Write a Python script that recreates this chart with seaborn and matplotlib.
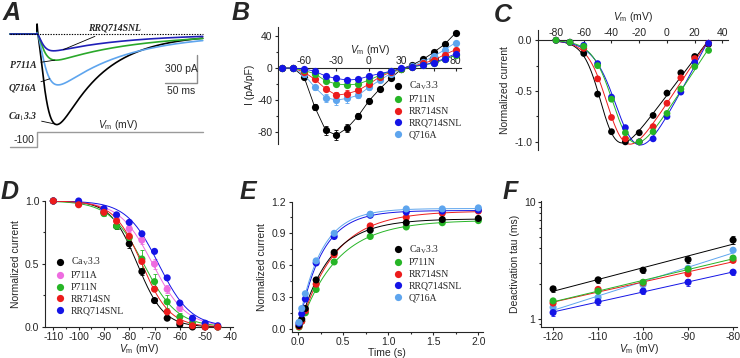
import numpy as np
import pandas as pd
import seaborn as sns
import matplotlib.pyplot as plt
from matplotlib.font_manager import FontProperties
from matplotlib.lines import Line2D
from matplotlib.ticker import MultipleLocator, FixedLocator, FuncFormatter, NullFormatter, LogLocator

sns.set_style('ticks')
plt.rcParams['font.family'] = ['Liberation Sans', 'DejaVu Sans']
plt.rcParams['mathtext.fontset'] = 'custom'
plt.rcParams['mathtext.rm'] = 'Liberation Sans'
plt.rcParams['mathtext.it'] = 'Liberation Sans:italic'
plt.rcParams['font.size'] = 7.5
plt.rcParams['axes.labelsize'] = 7.5
plt.rcParams['xtick.labelsize'] = 7.5
plt.rcParams['ytick.labelsize'] = 7.5
plt.rcParams['axes.linewidth'] = 0.8
plt.rcParams['axes.unicode_minus'] = False
plt.rcParams['xtick.major.size'] = 2.5
plt.rcParams['ytick.major.size'] = 2.5
plt.rcParams['xtick.minor.size'] = 1.5
plt.rcParams['ytick.minor.size'] = 1.5
plt.rcParams['xtick.major.pad'] = 1
plt.rcParams['ytick.major.pad'] = 1.5

# colours
BLACK = '#000000'
GREEN = '#26b526'
RED = '#ec1c1c'
BLUE = '#1414e6'
LBLUE = '#5ea5ee'
PINK = '#ee6ce0'

CAV = 'Ca$_\\mathrm{V}$3.3'

# ---- A: example current traces (pA, ms)
a_names = [CAV, 'Q716A', 'P711A', 'RRQ714SNL']
a_colors = [BLACK, LBLUE, '#2aa82a', '#2020b8']
a_peak = [970, 545, 280, 180]
a_tau_act = [12.3, 11.0, 8.8, 7.6]
a_tau_inact = [70, 105, 125, 115]
a_spike = [130, 20, 15, 10]
a_hold_pot = -100
a_test_pot = -30

# ---- B: current-voltage relation
b_v = list(range(-80, 81, 10))
b_cav = [0, 0, -11, -49, -78, -84, -75, -60, -41, -26, -13, -1, 4, 11, 20, 30, 44]
b_p711n = [0, 0, -3, -7, -16, -20, -21, -20, -15, -9, -4, -1, 1, 4, 6, 11, 16]
b_rr714sn = [0, 0, -5, -14, -26, -34, -32, -28, -20, -11, -5, -1, 2, 6, 10, 17, 23]
b_rrq714snl = [0, 0, -1, -4, -10, -13, -15, -14, -10, -7, -4, 0, 2, 4, 7, 12, 18]
b_q716a = [0, 0, -8, -24, -37, -40, -38, -34, -24, -15, -7, -1, 3, 8, 15, 23, 32]
b_cav_sem = [0, 0, 2, 4, 6, 6, 5, 4, 3, 2, 2, 1, 1, 1, 2, 2, 2]
b_p711n_sem = [0, 0, 1, 1, 2, 2, 2, 2, 2, 1, 1, 1, 1, 1, 1, 1, 1]
b_rr714sn_sem = [0, 0, 1, 2, 3, 4, 4, 3, 2, 2, 1, 1, 1, 1, 1, 2, 2]
b_rrq714snl_sem = [0, 0, 1, 1, 2, 2, 2, 2, 1, 1, 1, 1, 1, 1, 1, 1, 1]
b_q716a_sem = [0, 0, 2, 3, 5, 6, 6, 4, 3, 2, 2, 1, 1, 1, 2, 2, 2]

# ---- C: normalized I-V
c_v = list(range(-80, 31, 10))
c_cav = [0, -0.02, -0.13, -0.53, -0.90, -1.0, -0.91, -0.74, -0.52, -0.32, -0.16, -0.04]
c_rr714sn = [0, -0.02, -0.08, -0.38, -0.76, -0.97, -1.0, -0.85, -0.62, -0.37, -0.18, -0.03]
c_rrq714snl = [0, -0.02, -0.05, -0.23, -0.56, -0.86, -1.0, -0.97, -0.75, -0.51, -0.22, -0.03]
c_p711n = [0, -0.02, -0.06, -0.25, -0.58, -0.91, -1.0, -0.90, -0.72, -0.48, -0.26, -0.10]

# ---- D: steady-state inactivation
d_v = [-110, -100, -90, -85, -80, -75, -70, -65, -60, -55, -50, -45]
d_cav = [1.0, 0.98, 0.91, 0.80, 0.66, 0.44, 0.21, 0.07, 0.02, 0.0, 0.0, 0.0]
d_p711a = [1.0, 0.98, 0.93, 0.85, 0.78, 0.69, 0.50, 0.30, 0.15, 0.05, 0.02, 0.0]
d_p711n = [1.0, 0.98, 0.90, 0.80, 0.71, 0.54, 0.36, 0.20, 0.08, 0.03, 0.01, 0.0]
d_rr714sn = [1.0, 0.97, 0.91, 0.84, 0.72, 0.52, 0.30, 0.12, 0.04, 0.01, 0.0, 0.0]
d_rrq714snl = [1.0, 1.0, 0.94, 0.89, 0.83, 0.74, 0.60, 0.39, 0.19, 0.07, 0.03, 0.01]
d_p711n_sem = [0, 0.01, 0.02, 0.02, 0.03, 0.07, 0.06, 0.05, 0.03, 0.01, 0.01, 0]
d_p711a_sem = [0, 0.01, 0.02, 0.02, 0.03, 0.03, 0.04, 0.03, 0.02, 0.01, 0.01, 0]
d_cav_sem = [0, 0.01, 0.02, 0.02, 0.03, 0.03, 0.02, 0.01, 0.01, 0, 0, 0]

# ---- E: recovery from inactivation
e_t = [0.01, 0.04, 0.08, 0.2, 0.4, 0.8, 1.2, 1.6, 2.0]
e_cav = [0.03, 0.09, 0.19, 0.46, 0.72, 0.93, 1.00, 1.03, 1.04]
e_p711n = [0.015, 0.07, 0.15, 0.37, 0.63, 0.87, 0.96, 1.00, 1.02]
e_rr714sn = [0.02, 0.07, 0.17, 0.42, 0.70, 0.97, 1.05, 1.09, 1.11]
e_rrq714snl = [0.05, 0.14, 0.28, 0.62, 0.87, 1.07, 1.10, 1.11, 1.12]
e_q716a = [0.06, 0.19, 0.33, 0.64, 0.90, 1.08, 1.13, 1.13, 1.14]
e_q716a_sem = [0.01, 0.02, 0.02, 0.02, 0.02, 0.03, 0.02, 0.02, 0.02]
e_rr714sn_sem = [0.01, 0.01, 0.02, 0.02, 0.02, 0.03, 0.02, 0.02, 0.02]

# ---- F: deactivation kinetics (ms)
f_v = [-120, -110, -100, -90, -80]
f_cav = [1.80, 2.15, 2.60, 3.20, 4.70]
f_q716a = [1.25, 1.52, 1.95, 2.70, 3.85]
f_p711n = [1.42, 1.72, 2.05, 2.65, 3.30]
f_rr714sn = [1.36, 1.78, 2.02, 2.42, 3.15]
f_rrq714snl = [1.13, 1.40, 1.72, 2.05, 2.50]
f_cav_sem = [0.12, 0.12, 0.12, 0.2, 0.35]
f_rrq714snl_sem = [0.08, 0.1, 0.1, 0.15, 0.12]

palette = {CAV: BLACK, 'P711A': PINK, 'P711N': GREEN, 'RR714SN': RED,
           'RRQ714SNL': BLUE, 'Q716A': LBLUE}

serif = FontProperties(family='Liberation Serif', size=7, math_fontfamily='stix')


def long_df(x, series, xname, yname):
    frames = [pd.DataFrame({xname: x, yname: vals, 'construct': name})
              for name, vals in series.items()]
    return pd.concat(frames, ignore_index=True)


def fit_iv(v, y):
    v = np.asarray(v, float); y = np.asarray(y, float)
    v50 = np.arange(-70, -20, 0.5)[:, None, None, None]
    k = np.arange(2, 12, 0.25)[None, :, None, None]
    erev = np.arange(15, 60, 1.0)[None, None, :, None]
    m = (v - erev) / (1 + np.exp((v50 - v) / k))
    g = (m * y).sum(-1, keepdims=True) / (m * m).sum(-1, keepdims=True)
    err = ((g * m - y) ** 2).sum(-1)
    i, j, l = np.unravel_index(err.argmin(), err.shape)
    vv = np.linspace(v.min(), v.max(), 200)
    yy = g[i, j, l, 0] * (vv - erev.ravel()[l]) / (1 + np.exp((v50.ravel()[i] - vv) / k.ravel()[j]))
    return vv, yy


def fit_boltz(v, y):
    v = np.asarray(v, float); y = np.asarray(y, float)
    v50 = np.arange(-90, -50, 0.1)[:, None, None]
    k = np.arange(2, 10, 0.05)[None, :, None]
    err = ((1 / (1 + np.exp((v - v50) / k)) - y) ** 2).sum(-1)
    i, j = np.unravel_index(err.argmin(), err.shape)
    vv = np.linspace(v.min(), v.max(), 200)
    return vv, 1 / (1 + np.exp((vv - v50.ravel()[i]) / k.ravel()[j]))


def fit_rise(t, y):
    t = np.asarray(t, float); y = np.asarray(y, float)
    tau = np.arange(0.1, 1.0, 0.002)[:, None, None]
    t0 = np.arange(-0.06, 0.04, 0.002)[None, :, None]
    m = 1 - np.exp(-np.clip(t - t0, 0, None) / tau)
    a = (m * y).sum(-1, keepdims=True) / (m * m).sum(-1, keepdims=True)
    err = ((a * m - y) ** 2).sum(-1)
    i, j = np.unravel_index(err.argmin(), err.shape)
    tt = np.linspace(0, t.max(), 200)
    return tt, a[i, j, 0] * (1 - np.exp(-np.clip(tt - t0.ravel()[j], 0, None) / tau.ravel()[i]))


def fit_df(x, series, fitter, xname, yname):
    frames = []
    for name, vals in series.items():
        xx, yy = fitter(x, vals)
        frames.append(pd.DataFrame({xname: xx, yname: yy, 'construct': name}))
    return pd.concat(frames, ignore_index=True)


def draw_err(ax, x, vals, sem, color):
    ax.errorbar(x, vals, yerr=sem, fmt='none', ecolor=color, elinewidth=0.6,
                capsize=1.5, capthick=0.6, zorder=2)


def add_legend(ax, names, anchor):
    handles = [Line2D([], [], ls='', marker='o', ms=5.2, mec='none', color=palette[n]) for n in names]
    ax.legend(handles, names, loc='upper left', bbox_to_anchor=anchor,
              bbox_transform=ax.figure.transFigure, frameon=False, prop=serif,
              handlelength=0.8, handletextpad=0.7, labelspacing=0.28,
              borderpad=0, borderaxespad=0)


fig = plt.figure(figsize=(7.4, 3.58), dpi=100)

# ================= A =================
axA = fig.add_axes([0.0108, 0.567, 0.2703, 0.391])
axA.set_xlim(-45.3, 267.2)
axA.set_ylim(-1296, 203.6)
axA.axis('off')
t_a = np.linspace(-42, 259, 1500)
rows = []
for name, pk, tm, th, sp in zip(a_names, a_peak, a_tau_act, a_tau_inact, a_spike):
    tp = np.clip(t_a, 0, None)
    shape = np.where(t_a >= 0, (1 - np.exp(-tp / tm)) ** 2 * np.exp(-tp / th), 0)
    cur = -pk * shape / shape.max() + np.where(t_a >= 0, sp * np.exp(-tp / 0.9), 0)
    rows.append(pd.DataFrame({'t': t_a, 'I': cur, 'construct': name}))
df_a = pd.concat(rows, ignore_index=True)
sns.lineplot(data=df_a, x='t', y='I', hue='construct', hue_order=a_names,
             palette=dict(zip(a_names, a_colors)), estimator=None, sort=False,
             lw=1.2, legend=False, ax=axA)
axA.hlines(0, t_a[0], t_a[-1], colors='k', lw=0.8, linestyles=(0, (1.2, 1.2)), zorder=4)


def trace_at(name, t):
    d = df_a[df_a['construct'] == name]
    return np.interp(t, d['t'], d['I'])


ann = dict(arrowstyle='-', lw=0.6, color='k', shrinkA=1, shrinkB=0)
afont = dict(family='Liberation Serif', style='italic', size=7, weight='bold')
axA.annotate('RRQ714SNL', xy=(41, trace_at('RRQ714SNL', 41)), xytext=(80, 64),
             ha='left', va='center', arrowprops=ann, **afont)
axA.annotate('P711A', xy=(28, trace_at('P711A', 28)), xytext=(-1, -332),
             ha='right', va='center', arrowprops=ann, **afont)
axA.annotate('Q716A', xy=(20, trace_at('Q716A', 20)), xytext=(-1, -578),
             ha='right', va='center', arrowprops=ann, **afont)
axA.annotate('Ca$_\\mathrm{1}$3.3', xy=(28, trace_at(CAV, 28)), xytext=(0, -889),
             ha='right', va='center', arrowprops=ann, math_fontfamily='stix', **afont)

# scale bars (300 pA, 50 ms)
sb_t, sb_i = 250, -520
axA.plot([sb_t, sb_t, sb_t - 50], [sb_i + 300, sb_i, sb_i], color='#8c8c8c', lw=1)
axA.text(sb_t - 25, sb_i + 150, '300 pA', ha='center', va='center', fontsize=7.5)
axA.text(sb_t - 25, sb_i - 95, '50 ms', ha='center', va='center', fontsize=7.5)
axA.text(127, -975, '$V_\\mathrm{m}$ (mV)', ha='center', va='center', fontsize=7.5)

# voltage protocol
axP = fig.add_axes([0.0108, 0.581, 0.2703, 0.0615])
axP.set_xlim(-45.3, 267.2)
axP.set_ylim(-115.7, -11)
axP.axis('off')
axP.plot([t_a[0], 0, 0, t_a[-1]], [a_hold_pot, a_hold_pot, a_test_pot, a_test_pot],
         color='#9a9a9a', lw=1)
axP.text(-20, -70, str(a_hold_pot), ha='center', va='center', fontsize=7.5)

# ================= B =================
axB = fig.add_axes([0.3757, 0.598, 0.2473, 0.3277])
b_series = {CAV: b_cav, 'Q716A': b_q716a, 'RR714SN': b_rr714sn,
            'P711N': b_p711n, 'RRQ714SNL': b_rrq714snl}
b_sems = {CAV: b_cav_sem, 'Q716A': b_q716a_sem, 'RR714SN': b_rr714sn_sem,
          'P711N': b_p711n_sem, 'RRQ714SNL': b_rrq714snl_sem}
for n, vals in b_series.items():
    draw_err(axB, b_v, vals, b_sems[n], palette[n])
df_b = long_df(b_v, b_series, 'V', 'I')
sns.lineplot(data=df_b, x='V', y='I', hue='construct', hue_order=list(b_series),
             palette=palette, estimator=None, lw=0.6, marker='o', markersize=5.2,
             markeredgewidth=0, legend=False, ax=axB, zorder=3)
axB.set_xlim(-84, 85)
axB.set_ylim(-95, 52)
axB.spines['top'].set_position(('data', 0))
axB.spines[['bottom', 'right']].set_visible(False)
axB.xaxis.tick_top()
axB.xaxis.set_label_position('top')
axB.tick_params(axis='x', direction='in', pad=1.5)
axB.set_xticks([-60, -30, 0, 30, 60, 80])
axB.set_yticks([-80, -40, 0, 40])
axB.yaxis.set_minor_locator(MultipleLocator(20))
axB.set_xlabel('$V_\\mathrm{m}$ (mV)', labelpad=2)
axB.set_ylabel('I (pA/pF)', labelpad=2)
add_legend(axB, [CAV, 'P711N', 'RR714SN', 'RRQ714SNL', 'Q716A'], (394 / 740, 1 - 80 / 358))

# ================= C =================
axC = fig.add_axes([0.727, 0.581, 0.2568, 0.335])
c_series = {CAV: c_cav, 'RR714SN': c_rr714sn, 'RRQ714SNL': c_rrq714snl, 'P711N': c_p711n}
sns.lineplot(data=fit_df(c_v, c_series, fit_iv, 'V', 'I'), x='V', y='I', hue='construct',
             palette=palette, estimator=None, sort=False, lw=0.7, legend=False, ax=axC)
sns.scatterplot(data=long_df(c_v, c_series, 'V', 'I'), x='V', y='I', hue='construct',
                palette=palette, s=24, edgecolor='none', legend=False, ax=axC,
                zorder=3, clip_on=False)
axC.set_xlim(-93, 44)
axC.set_ylim(-1.08, 0.1)
axC.spines['top'].set_position(('data', 0))
axC.spines[['bottom', 'right']].set_visible(False)
axC.xaxis.tick_top()
axC.xaxis.set_label_position('top')
axC.tick_params(axis='x', direction='in', pad=1.5)
axC.set_xticks([-80, -60, -40, -20, 0, 20, 40])
axC.set_yticks([-1.0, -0.5, 0.0])
axC.yaxis.set_minor_locator(MultipleLocator(0.25))
axC.set_xlabel('$V_\\mathrm{m}$ (mV)', labelpad=6)
axC.set_ylabel('Normalized current', labelpad=3)

# ================= D =================
axD = fig.add_axes([0.0608, 0.0866, 0.254, 0.352])
d_series = {CAV: d_cav, 'P711A': d_p711a, 'P711N': d_p711n,
            'RRQ714SNL': d_rrq714snl, 'RR714SN': d_rr714sn}
for n, s in [(CAV, d_cav_sem), ('P711A', d_p711a_sem), ('P711N', d_p711n_sem)]:
    draw_err(axD, d_v, d_series[n], s, palette[n])
sns.lineplot(data=fit_df(d_v, d_series, fit_boltz, 'V', 'I'), x='V', y='I', hue='construct',
             palette=palette, estimator=None, sort=False, lw=0.7, legend=False, ax=axD)
sns.scatterplot(data=long_df(d_v, d_series, 'V', 'I'), x='V', y='I', hue='construct',
                palette=palette, s=26, edgecolor='none', legend=False, ax=axD,
                zorder=3, clip_on=False)
axD.set_xlim(-113.3, -39)
axD.set_ylim(0, 1.0)
axD.spines[['top', 'right']].set_visible(False)
axD.set_xticks(range(-110, -39, 10))
axD.set_yticks([0, 0.5, 1.0])
axD.yaxis.set_minor_locator(MultipleLocator(0.25))
axD.xaxis.set_minor_locator(MultipleLocator(5))
axD.set_xlabel('$V_\\mathrm{m}$ (mV)', labelpad=0)
axD.set_ylabel('Normalized current', labelpad=3)
add_legend(axD, [CAV, 'P711A', 'P711N', 'RR714SN', 'RRQ714SNL'], (56 / 740, 1 - 256 / 358))

# ================= E =================
axE = fig.add_axes([0.394, 0.073, 0.2585, 0.3641])
e_series = {'P711N': e_p711n, 'RR714SN': e_rr714sn, CAV: e_cav,
            'RRQ714SNL': e_rrq714snl, 'Q716A': e_q716a}
draw_err(axE, e_t, e_q716a, e_q716a_sem, LBLUE)
draw_err(axE, e_t, e_rr714sn, e_rr714sn_sem, RED)
sns.lineplot(data=fit_df(e_t, e_series, fit_rise, 't', 'I'), x='t', y='I', hue='construct',
             palette=palette, estimator=None, sort=False, lw=0.7, legend=False, ax=axE)
sns.scatterplot(data=long_df(e_t, e_series, 't', 'I'), x='t', y='I', hue='construct',
                palette=palette, s=26, edgecolor='none', legend=False, ax=axE,
                zorder=3, clip_on=False)
axE.set_xlim(-0.073, 2.05)
axE.set_ylim(-0.03, 1.2)
axE.spines[['top', 'right']].set_visible(False)
axE.set_xticks([0, 0.5, 1.0, 1.5, 2.0])
axE.set_yticks([0, 0.3, 0.6, 0.9, 1.2])
axE.yaxis.set_minor_locator(MultipleLocator(0.15))
axE.xaxis.set_minor_locator(MultipleLocator(0.25))
axE.set_xlabel('Time (s)', labelpad=1)
axE.set_ylabel('Normalized current', labelpad=3)
add_legend(axE, [CAV, 'P711N', 'RR714SN', 'RRQ714SNL', 'Q716A'], (394 / 740, 1 - 243 / 358))

# ================= F =================
axF = fig.add_axes([0.731, 0.0866, 0.2645, 0.3528])
f_series = {CAV: f_cav, 'Q716A': f_q716a, 'RR714SN': f_rr714sn,
            'P711N': f_p711n, 'RRQ714SNL': f_rrq714snl}
draw_err(axF, f_v, f_cav, f_cav_sem, BLACK)
draw_err(axF, f_v, f_rrq714snl, f_rrq714snl_sem, BLUE)
fit_rows = []
for n, vals in f_series.items():
    slope, icpt = np.polyfit(f_v, np.log(vals), 1)
    vv = np.linspace(min(f_v), max(f_v), 50)
    fit_rows.append(pd.DataFrame({'V': vv, 'tau': np.exp(icpt + slope * vv), 'construct': n}))
sns.lineplot(data=pd.concat(fit_rows, ignore_index=True), x='V', y='tau', hue='construct',
             palette=palette, estimator=None, sort=False, lw=0.7, legend=False, ax=axF)
sns.scatterplot(data=long_df(f_v, f_series, 'V', 'tau'), x='V', y='tau', hue='construct',
                palette=palette, s=26, edgecolor='none', legend=False, ax=axF,
                zorder=3, clip_on=False)
axF.set_yscale('log')
axF.set_xlim(-122.7, -79.2)
axF.set_ylim(0.85, 10.2)
axF.spines[['top', 'right']].set_visible(False)
axF.set_xticks([-120, -110, -100, -90, -80])
axF.yaxis.set_major_locator(FixedLocator([1, 10]))
axF.yaxis.set_major_formatter(FuncFormatter(lambda v, p: f'{v:g}'))
axF.yaxis.set_minor_locator(LogLocator(base=10, subs=range(2, 10)))
axF.yaxis.set_minor_formatter(NullFormatter())
axF.set_xlabel('$V_\\mathrm{m}$ (mV)', labelpad=0)
axF.set_ylabel('Deactivation tau (ms)', labelpad=3)

for ax in [axB, axC, axD, axE, axF]:
    ax.tick_params(which='both', width=0.8)

# panel letters
for letter, x, y in [('A', 3, 1), ('B', 232, 1), ('C', 494, 3), ('D', 1, 180), ('E', 240, 180), ('F', 503, 180)]:
    fig.text(x / 740, 1 - y / 358, letter, fontsize=18, fontweight='bold', fontstyle='italic',
             ha='left', va='top')

fig.savefig('out.png', dpi=100)
